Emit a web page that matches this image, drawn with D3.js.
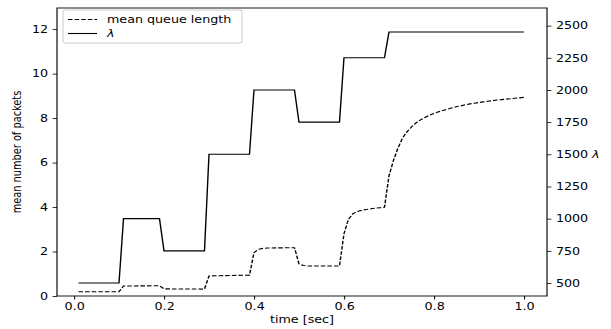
<!DOCTYPE html>
<meta charset="utf-8">
<script src="https://d3js.org/d3.v7.min.js"></script>
<style>
  body { margin: 0; background: #fff; }
  text { font-family: "DejaVu Sans", sans-serif; fill: #000; }
</style>
<div id="chart"></div>
<script>

// lambda (arrival rate) steps, right axis
const lambdaTime = [0.01, 0.10, 0.11, 0.19, 0.20, 0.29, 0.30, 0.39, 0.40, 0.49, 0.50, 0.59, 0.60, 0.69, 0.70, 1.00];
const lambdaRate = [500, 500, 1000, 1000, 750, 750, 1500, 1500, 2000, 2000, 1750, 1750, 2250, 2250, 2450, 2450];

// mean queue length, left axis
const queueTime = [0.01, 0.10, 0.11, 0.19, 0.20, 0.29, 0.30, 0.39, 0.40, 0.41, 0.42, 0.43, 0.49,
  0.50, 0.51, 0.52, 0.59, 0.60, 0.61, 0.62, 0.63, 0.64, 0.65, 0.66, 0.67, 0.68, 0.69,
  0.70, 0.71, 0.72, 0.73, 0.74, 0.75, 0.76, 0.77, 0.78, 0.79, 0.80, 0.81, 0.82, 0.83, 0.84,
  0.85, 0.86, 0.87, 0.88, 0.89, 0.90, 0.91, 0.92, 0.93, 0.94, 0.95, 0.96, 0.97, 0.98, 0.99, 1.00];
const queueMean = [0.19, 0.19, 0.45, 0.46, 0.32, 0.31, 0.90, 0.94, 1.95, 2.10, 2.14, 2.16, 2.17,
  1.45, 1.37, 1.35, 1.35, 2.80, 3.45, 3.70, 3.80, 3.86, 3.89, 3.92, 3.95, 3.97, 3.99,
  5.40, 6.10, 6.65, 7.10, 7.38, 7.60, 7.78, 7.92, 8.03, 8.13, 8.21, 8.28, 8.34, 8.40, 8.46,
  8.51, 8.55, 8.60, 8.64, 8.67, 8.70, 8.73, 8.76, 8.78, 8.81, 8.83, 8.85, 8.87, 8.89, 8.91, 8.93];

// tick labels
const xTicks = [0.0, 0.2, 0.4, 0.6, 0.8, 1.0];
const yLeftTicks = [0, 2, 4, 6, 8, 10, 12];
const yRightTicks = [500, 750, 1000, 1250, 1500, 1750, 2000, 2250, 2500];

const width = 611, height = 329;
// the picture is stretched sideways, so draw in a narrower frame and scale it
const sx = 1.27;
const W = width / sx;
const margin = {left: 57 / sx, right: (width - 547) / sx, top: 8, bottom: 33};
const plotW = W - margin.left - margin.right;
const plotH = height - margin.top - margin.bottom;

const svg = d3.select("#chart")
  .append("svg")
    .attr("width", width)
    .attr("height", height);

const root = svg.append("g").attr("transform", `scale(${sx},1)`);

const g = root.append("g")
  .attr("transform", `translate(${margin.left},${margin.top})`);

const x = d3.scaleLinear().domain([-0.0378, 1.0512]).range([0, plotW]);
const yLeft = d3.scaleLinear().domain([0, 12.95]).range([plotH, 0]);
const yRight = d3.scaleLinear().domain([399, 2637]).range([plotH, 0]);

// axes
function styleAxis(sel) {
  sel.select(".domain").remove();
  sel.selectAll(".tick line").attr("stroke", "#000").attr("stroke-width", 0.8);
  sel.selectAll(".tick text").style("font-size", "10px").style("font-family", "DejaVu Sans");
}

g.append("g")
  .attr("transform", `translate(0,${plotH})`)
  .call(d3.axisBottom(x).tickValues(xTicks).tickFormat(d3.format(".1f")).tickSize(3.5).tickPadding(3.5))
  .call(styleAxis);

g.append("g")
  .call(d3.axisLeft(yLeft).tickValues(yLeftTicks).tickFormat(d3.format("d")).tickSize(3.5).tickPadding(3.5))
  .call(styleAxis);

g.append("g")
  .attr("transform", `translate(${plotW},0)`)
  .call(d3.axisRight(yRight).tickValues(yRightTicks).tickFormat(d3.format("d")).tickSize(3.5).tickPadding(3.5))
  .call(styleAxis);

// frame
g.append("rect")
  .attr("width", plotW).attr("height", plotH)
  .attr("fill", "none").attr("stroke", "#000").attr("stroke-width", 0.9);

// lines
const queueLine = d3.line()
  .x((d, i) => x(queueTime[i]))
  .y(d => yLeft(d));

const lambdaLine = d3.line()
  .x((d, i) => x(lambdaTime[i]))
  .y(d => yRight(d));

g.append("path")
  .datum(queueMean)
  .attr("d", queueLine)
  .attr("fill", "none")
  .attr("stroke", "#000")
  .attr("stroke-width", 1.1)
  .attr("stroke-dasharray", "3.6,1.6");

g.append("path")
  .datum(lambdaRate)
  .attr("d", lambdaLine)
  .attr("fill", "none")
  .attr("stroke", "#000")
  .attr("stroke-width", 1.1);

// axis labels
root.append("text")
  .attr("x", margin.left + plotW / 2)
  .attr("y", 323)
  .attr("text-anchor", "middle")
  .style("font-size", "10px")
  .text("time [sec]");

root.append("text")
  .attr("transform", `translate(${21 / sx},${margin.top + plotH / 2}) rotate(-90)`)
  .attr("text-anchor", "middle")
  .style("font-size", "9.8px")
  .text("mean number of packets");

root.append("text")
  .attr("x", 592 / sx)
  .attr("y", 158)
  .style("font-size", "10px")
  .style("font-style", "italic")
  .text("λ");

// legend
const legend = root.append("g").attr("transform", `translate(${63 / sx},10)`);
legend.append("rect")
  .attr("width", 179 / sx).attr("height", 33)
  .attr("rx", 2)
  .attr("fill", "#fff").attr("fill-opacity", 0.8)
  .attr("stroke", "#ccc").attr("stroke-width", 0.8);

const legendItems = [
  {label: "mean queue length", dash: "3.6,1.6", italic: false},
  {label: "λ", dash: null, italic: true}
];

legend.selectAll("line.key")
  .data(legendItems)
  .join("line")
    .attr("class", "key")
    .attr("x1", 5 / sx).attr("x2", 34 / sx)
    .attr("y1", (d, i) => 9.5 + i * 14)
    .attr("y2", (d, i) => 9.5 + i * 14)
    .attr("stroke", "#000")
    .attr("stroke-width", 1.1)
    .attr("stroke-dasharray", d => d.dash);

legend.selectAll("text.key")
  .data(legendItems)
  .join("text")
    .attr("class", "key")
    .attr("x", 44 / sx)
    .attr("y", (d, i) => 13 + i * 14)
    .style("font-size", "10px")
    .style("font-style", d => d.italic ? "italic" : "normal")
    .text(d => d.label);

</script>
